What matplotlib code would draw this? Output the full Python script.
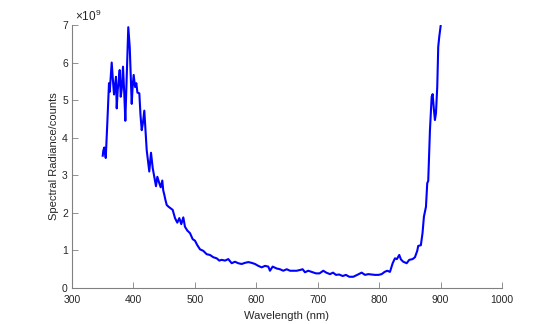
import matplotlib
matplotlib.use('Agg')
from matplotlib import pyplot as plt
import numpy as np

# spectrum (radiance in units of 1e9 counts)
wavelength = [
    350, 351, 352.6, 354.9, 357.5, 360.2, 361.4, 364.6, 366.5, 368.4,
    370, 371.6, 372.8, 374.4, 376, 377.6, 379.3, 381, 383, 385,
    386.8, 389, 391.6, 394, 397.2, 398.8, 400.4, 402.6, 404.7, 406.5,
    409.6, 411.5, 413.5, 415.5, 417.7, 419.3, 421.6, 425.8, 428.6, 431.4,
    433.5, 436.7, 438.9, 442.1, 444.4, 447, 448.5, 450.3, 452, 454.2,
    457.4, 460.7, 463.9, 467.7, 471.4, 474.7, 477.9, 481.2, 483.9, 487.7,
    492.1, 496.5, 500.2, 504, 508.4, 513.7, 519.3, 524.6, 530, 535.6,
    539.8, 543.7, 549.1, 554.4, 560, 565.3, 570.7, 576.2, 581.6, 587,
    592.5, 597.9, 603.3, 608.8, 614.2, 619.6, 622.3, 626.7, 633.2, 638.6,
    644, 649.6, 655, 660.4, 665.8, 671.2, 675.5, 679.3, 684.7, 690,
    697.2, 703, 709.1, 714, 720, 725, 729.8, 735, 740.7, 746,
    751.4, 758, 764.4, 771.6, 777, 782.3, 788, 793.2, 799, 804.2,
    809, 813.3, 817.7, 822.1, 825.8, 829, 832.8, 835.6, 839.3, 844.9,
    849.1, 854.6, 858.4, 862.1, 863.7, 868, 870.7, 873, 876.3, 878.4,
    880, 882.8, 885.6, 887.2, 889.3, 890.9, 892.6, 894.7, 896.3, 898,
    900.2,
]
radiance = [
    3.52, 3.66, 3.74, 3.46, 4.40, 5.45, 5.22, 6.00, 5.55, 5.15,
    5.40, 5.62, 4.78, 5.27, 5.50, 5.80, 5.09, 5.30, 5.89, 5.20,
    4.45, 5.60, 6.94, 6.40, 4.90, 5.40, 5.67, 5.35, 5.45, 5.20,
    5.18, 4.60, 4.20, 4.40, 4.72, 4.30, 3.67, 3.10, 3.60, 3.19,
    3.00, 2.71, 2.96, 2.79, 2.68, 2.86, 2.60, 2.48, 2.35, 2.21,
    2.16, 2.12, 2.08, 1.86, 1.74, 1.86, 1.70, 1.88, 1.63, 1.53,
    1.46, 1.30, 1.26, 1.14, 1.03, 0.99, 0.90, 0.88, 0.82, 0.79,
    0.73, 0.75, 0.73, 0.77, 0.66, 0.70, 0.66, 0.64, 0.67, 0.69,
    0.67, 0.64, 0.59, 0.55, 0.59, 0.57, 0.46, 0.57, 0.52, 0.50,
    0.46, 0.50, 0.46, 0.46, 0.46, 0.48, 0.50, 0.42, 0.46, 0.43,
    0.39, 0.39, 0.46, 0.41, 0.37, 0.41, 0.35, 0.36, 0.32, 0.35,
    0.30, 0.30, 0.35, 0.41, 0.35, 0.37, 0.36, 0.35, 0.35, 0.37,
    0.43, 0.46, 0.43, 0.66, 0.79, 0.77, 0.88, 0.76, 0.70, 0.66,
    0.75, 0.77, 0.82, 0.99, 1.12, 1.14, 1.46, 1.90, 2.16, 2.79,
    2.85, 4.20, 5.09, 5.16, 4.74, 4.47, 4.65, 5.36, 6.42, 6.69,
    6.97,
]

x_ticks = [300, 400, 500, 600, 700, 800, 900, 1000]
y_ticks = [0, 1, 2, 3, 4, 5, 6, 7]

plt.rcParams['font.family'] = ['Liberation Sans', 'DejaVu Sans']
plt.rcParams['mathtext.default'] = 'regular'

axis_color = '#808080'
text_color = '#262626'

fig = plt.figure(figsize=(5.54, 3.24), dpi=100)
ax = fig.add_axes([0.13, 0.111, 0.776, 0.812])

ax.plot(wavelength, radiance, color='#0000ff', linewidth=1.5)

ax.set_xlim(300, 1000)
ax.set_ylim(0, 7)
ax.set_xticks(x_ticks)
ax.set_yticks(y_ticks)

for side in ('top', 'right'):
    ax.spines[side].set_visible(False)
for side in ('left', 'bottom'):
    ax.spines[side].set_color(axis_color)
    ax.spines[side].set_linewidth(0.8)

ax.tick_params(direction='in', length=4, width=0.6, color=axis_color,
               labelcolor=text_color, labelsize=7.5)
ax.tick_params(axis='x', pad=5)
ax.tick_params(axis='y', pad=3)

ax.set_xlabel('Wavelength (nm)', fontsize=8, color=text_color, labelpad=4)
ax.set_ylabel('Spectral Radiance/counts', fontsize=8, color=text_color, labelpad=2)

ax.text(0.008, 1.005, r'$\times10^{9}$', transform=ax.transAxes,
        ha='left', va='bottom', fontsize=8.5, color=text_color)

fig.savefig('out.png', dpi=100)
